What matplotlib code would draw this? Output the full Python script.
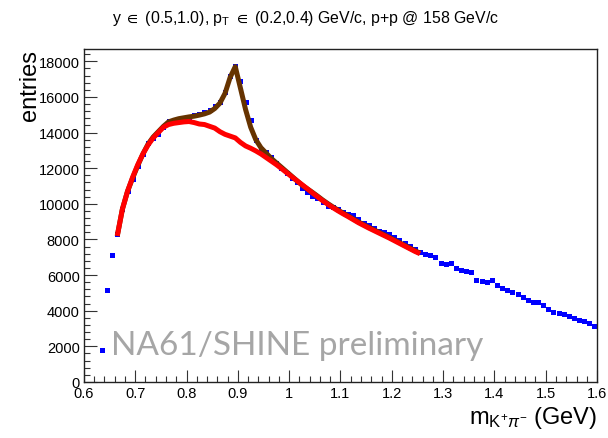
import numpy as np
import matplotlib
matplotlib.use("Agg")
import matplotlib.pyplot as plt
from matplotlib.ticker import MultipleLocator

plt.rcParams['font.family'] = ['Liberation Sans', 'DejaVu Sans']
plt.rcParams['mathtext.fontset'] = 'custom'
plt.rcParams['mathtext.rm'] = 'Liberation Sans'
plt.rcParams['mathtext.it'] = 'Liberation Sans:italic'
plt.rcParams['mathtext.sf'] = 'Liberation Sans'
plt.rcParams['mathtext.fallback'] = 'stixsans'

# ---- data ----
data_mass = [0.635, 0.645, 0.655, 0.665, 0.675, 0.685, 0.695, 0.705, 0.715, 0.725,
             0.735, 0.745, 0.755, 0.765, 0.775, 0.785, 0.795, 0.805, 0.815, 0.825,
             0.835, 0.845, 0.855, 0.865, 0.875, 0.885, 0.895, 0.905, 0.915, 0.925,
             0.935, 0.945, 0.955, 0.965, 0.975, 0.985, 0.995, 1.005, 1.015, 1.025,
             1.035, 1.045, 1.055, 1.065, 1.075, 1.085, 1.095, 1.105, 1.115, 1.125,
             1.135, 1.145, 1.155, 1.165, 1.175, 1.185, 1.195, 1.205, 1.215, 1.225,
             1.235, 1.245, 1.255, 1.265, 1.275, 1.285, 1.295, 1.305, 1.315, 1.325,
             1.335, 1.345, 1.355, 1.365, 1.375, 1.385, 1.395, 1.405, 1.415, 1.425,
             1.435, 1.445, 1.455, 1.465, 1.475, 1.485, 1.495, 1.505, 1.515, 1.525,
             1.535, 1.545, 1.555, 1.565, 1.575, 1.585, 1.595]
data_entries = [1800, 5150, 7100, 8300, 9700, 10700, 11400, 12100, 12800, 13400,
                13700, 13900, 14300, 14650, 14700, 14780, 14820, 14880, 15000, 15050,
                15150, 15250, 15500, 15700, 16300, 17200, 17750, 16900, 15700, 14700,
                13600, 13100, 12900, 12650, 12300, 12000, 11750, 11450, 11200, 10900,
                10650, 10450, 10300, 10100, 9900, 9800, 9700, 9550, 9450, 9350,
                9150, 8950, 8800, 8650, 8500, 8400, 8300, 8150, 7950, 7800,
                7650, 7480, 7300, 7200, 7150, 7000, 6680, 6650, 6700, 6400,
                6300, 6250, 6150, 5750, 5650, 5600, 5700, 5450, 5300, 5150,
                5050, 4950, 4750, 4600, 4480, 4470, 4300, 4100, 3950, 3900,
                3820, 3720, 3600, 3500, 3400, 3300, 3150]

fit_mass = [0.665, 0.675, 0.685, 0.695, 0.705, 0.715, 0.725, 0.735, 0.745, 0.755,
            0.765, 0.775, 0.785, 0.795, 0.805, 0.815, 0.825, 0.835, 0.845, 0.855,
            0.865, 0.875, 0.885, 0.895, 0.905, 0.915, 0.925, 0.935, 0.945, 0.955,
            0.965, 0.975, 0.985, 0.995, 1.005, 1.015, 1.025, 1.035, 1.045, 1.055,
            1.065, 1.075, 1.085, 1.095, 1.105, 1.115, 1.125, 1.135, 1.145, 1.155,
            1.165, 1.175, 1.185, 1.195, 1.205, 1.215, 1.225, 1.235, 1.245, 1.255]
fit_total = [8200, 9700, 10700, 11450, 12150, 12800, 13350, 13750, 14050, 14350,
             14600, 14700, 14780, 14830, 14880, 14920, 14980, 15050, 15150, 15350,
             15650, 16200, 17100, 17700, 16500, 15300, 14300, 13600, 13150, 12850,
             12550, 12300, 12050, 11800, 11550, 11300, 11050, 10850, 10650, 10440,
             10220, 10020, 9830, 9650, 9480, 9320, 9150, 8980, 8830, 8680,
             8540, 8400, 8260, 8120, 7970, 7820, 7670, 7520, 7370, 7230]
fit_background = [8200, 9700, 10700, 11500, 12200, 12800, 13300, 13700, 14000, 14300,
                  14450, 14520, 14560, 14600, 14620, 14560, 14480, 14450, 14350, 14250,
                  14050, 13900, 13800, 13700, 13450, 13250, 13120, 12970, 12800, 12600,
                  12400, 12200, 11980, 11750, 11520, 11300, 11080, 10850, 10620, 10400,
                  10180, 9980, 9790, 9610, 9440, 9280, 9110, 8940, 8790, 8640,
                  8500, 8360, 8220, 8080, 7930, 7780, 7630, 7480, 7330, 7200]

x_ticks = [0.6, 0.7, 0.8, 0.9, 1.0, 1.1, 1.2, 1.3, 1.4, 1.5, 1.6]
x_ticklabels = ["0.6", "0.7", "0.8", "0.9", "1", "1.1", "1.2", "1.3", "1.4", "1.5", "1.6"]
y_ticks = [0, 2000, 4000, 6000, 8000, 10000, 12000, 14000, 16000, 18000]

# ---- figure ----
fig = plt.figure(figsize=(6.08, 4.39), dpi=100)
ax = fig.add_axes([0.138, 0.1276, 0.844, 0.7585])

ax.plot(data_mass, data_entries, linestyle='none', marker='s', markersize=3.6,
        color='#0000ff', markeredgewidth=0, zorder=2)
ax.plot(fit_mass, fit_total, color='#663300', linewidth=3.6, zorder=3,
        solid_joinstyle='round', solid_capstyle='butt')
ax.plot(fit_mass, fit_background, color='#ff0000', linewidth=3.6, zorder=4,
        solid_joinstyle='round', solid_capstyle='butt')

ax.set_xlim(0.6, 1.6)
ax.set_ylim(0, 18690)
ax.set_xticks(x_ticks)
ax.set_xticklabels(x_ticklabels)
ax.set_yticks(y_ticks)
ax.xaxis.set_minor_locator(MultipleLocator(0.02))
ax.yaxis.set_minor_locator(MultipleLocator(400))
ax.tick_params(axis='both', which='major', direction='in', length=9, width=0.8,
               labelsize=10.5, color='#333333', top=False, right=False)
ax.tick_params(axis='both', which='minor', direction='in', length=4.5, width=0.8,
               color='#333333', top=False, right=False)
ax.tick_params(axis='x', pad=3)
ax.tick_params(axis='y', pad=3)
for s in ax.spines.values():
    s.set_linewidth(1.0)
    s.set_color('#222222')

fig.text(0.502, 0.958, "y ${\\in}$ (0.5,1.0), p$_\\mathrm{T}$ ${\\in}$ (0.2,0.4) GeV/c, p+p @ 158 GeV/c",
         ha='center', va='center', fontsize=11.4)
fig.text(0.05, 0.886, "entries", rotation=90, ha='center', va='top', fontsize=17)
fig.text(0.982, 0.035, "m$_{\\mathrm{K}^{+}\\pi^{-}}$ (GeV)", ha='right', va='baseline', fontsize=17)

ax.text(0.053, 0.085, "NA61/SHINE preliminary", transform=ax.transAxes,
        fontsize=24, color='#a6a6a6', family=['Lato', 'DejaVu Sans'],
        ha='left', va='baseline', zorder=5)

fig.savefig("out.png", dpi=100)
